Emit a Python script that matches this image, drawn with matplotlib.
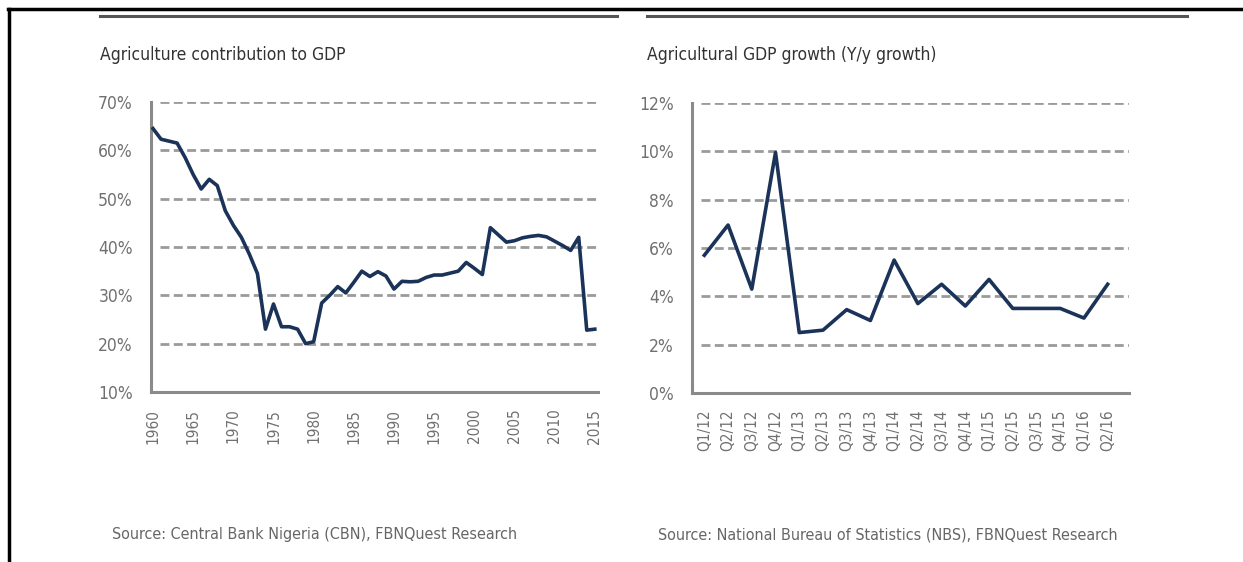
import matplotlib
matplotlib.use("Agg")
import matplotlib.pyplot as plt
from matplotlib.lines import Line2D

plt.rcParams["font.family"] = ["DejaVu Sans"]
plt.rcParams["font.stretch"] = "condensed"

# Left chart: agriculture share of GDP (%), 1960-2015
years = list(range(1960, 2016))
agri_share = [
    64.5, 62.3, 61.9, 61.5, 58.5, 55.0, 52.0, 54.0, 52.7, 47.5,
    44.5, 42.0, 38.5, 34.5, 23.0, 28.2, 23.5, 23.5, 23.0, 20.0,
    20.4, 28.4, 30.0, 31.8, 30.5, 32.7, 35.0, 33.9, 34.9, 34.0,
    31.3, 32.9, 32.8, 32.9, 33.7, 34.2, 34.2, 34.6, 35.0, 36.8,
    35.6, 34.3, 44.0, 42.5, 41.0, 41.3, 41.9, 42.2, 42.4, 42.1,
    41.2, 40.3, 39.3, 42.0, 22.8, 23.0,
]
left_yticks = [10, 20, 30, 40, 50, 60, 70]
left_xticks = list(range(1960, 2016, 5))

# Right chart: agricultural GDP growth y/y (%)
quarters = [
    "Q1/12", "Q2/12", "Q3/12", "Q4/12", "Q1/13", "Q2/13", "Q3/13", "Q4/13",
    "Q1/14", "Q2/14", "Q3/14", "Q4/14", "Q1/15", "Q2/15", "Q3/15", "Q4/15",
    "Q1/16", "Q2/16",
]
agri_growth = [5.7, 6.95, 4.3, 9.95, 2.5, 2.6, 3.45, 3.0, 5.5, 3.7,
               4.5, 3.6, 4.7, 3.5, 3.5, 3.5, 3.1, 4.5]
right_yticks = [0, 2, 4, 6, 8, 10, 12]

LINE = "#1b3358"
SPINE = "#8a8a8a"
GRID = "#9a9a9a"
TICK = "#707070"

W, H = 1243, 562
fig = plt.figure(figsize=(W / 100, H / 100), dpi=100)


def px_axes(x0, y0, x1, y1):
    return fig.add_axes([x0 / W, 1 - y1 / H, (x1 - x0) / W, (y1 - y0) / H])


def style(ax, yticks):
    for s in ["top", "right"]:
        ax.spines[s].set_visible(False)
    for s in ["left", "bottom"]:
        ax.spines[s].set_color(SPINE)
        ax.spines[s].set_linewidth(2.2)
    ax.set_yticks(yticks)
    ax.set_yticklabels([f"{v}%" for v in yticks])
    ax.tick_params(length=0, colors=TICK)
    ax.tick_params(axis="y", pad=13, labelsize=12.5)
    ax.tick_params(axis="x", pad=12, labelsize=11, labelrotation=90)
    ax.set_ylim(yticks[0], yticks[-1])
    for v in yticks[1:]:
        ax.axhline(v, xmin=0.02, color=GRID, lw=2.0, ls=(0, (3.2, 1.6)), zorder=1)


# left panel
ax1 = px_axes(151, 102, 598, 392)
ax1.plot(years, agri_share, color=LINE, lw=2.6, zorder=3, solid_joinstyle="round")
style(ax1, left_yticks)
ax1.set_xlim(1959.75, 2015.4)
ax1.set_xticks(left_xticks)
ax1.set_xticklabels([str(y) for y in left_xticks])

# right panel
ax2 = px_axes(692, 103, 1129, 393)
xs = list(range(len(quarters)))
ax2.plot(xs, agri_growth, color=LINE, lw=2.6, zorder=3, solid_joinstyle="round")
style(ax2, right_yticks)
ax2.set_xlim(-0.52, 17.9)
ax2.set_xticks(xs)
ax2.set_xticklabels(quarters)

# header rules and black frame
def hline(x0, x1, y, color, lw):
    fig.add_artist(Line2D([x0 / W, x1 / W], [1 - y / H, 1 - y / H],
                          color=color, lw=lw, transform=fig.transFigure))

hline(100, 617, 16, "#555555", 2.2)
hline(647, 1187, 16, "#555555", 2.2)
hline(8, W, 9, "black", 2.5)
fig.add_artist(Line2D([9 / W, 9 / W], [0, 1 - 9 / H], color="black", lw=2.5,
                      transform=fig.transFigure))

# titles and sources
fig.text(100 / W, 1 - 55 / H, "Agriculture contribution to GDP", fontsize=12.5,
         color="#333333", va="center", ha="left")
fig.text(647 / W, 1 - 55 / H, "Agricultural GDP growth (Y/y growth)", fontsize=12.5,
         color="#333333", va="center", ha="left")
fig.text(112 / W, 1 - 535 / H, "Source: Central Bank Nigeria (CBN), FBNQuest Research",
         fontsize=11.5, color="#666666", va="center", ha="left")
fig.text(658 / W, 1 - 535 / H,
         "Source: National Bureau of Statistics (NBS), FBNQuest Research",
         fontsize=11.5, color="#666666", va="center", ha="left")

fig.savefig("out.png", dpi=100, facecolor="white")
